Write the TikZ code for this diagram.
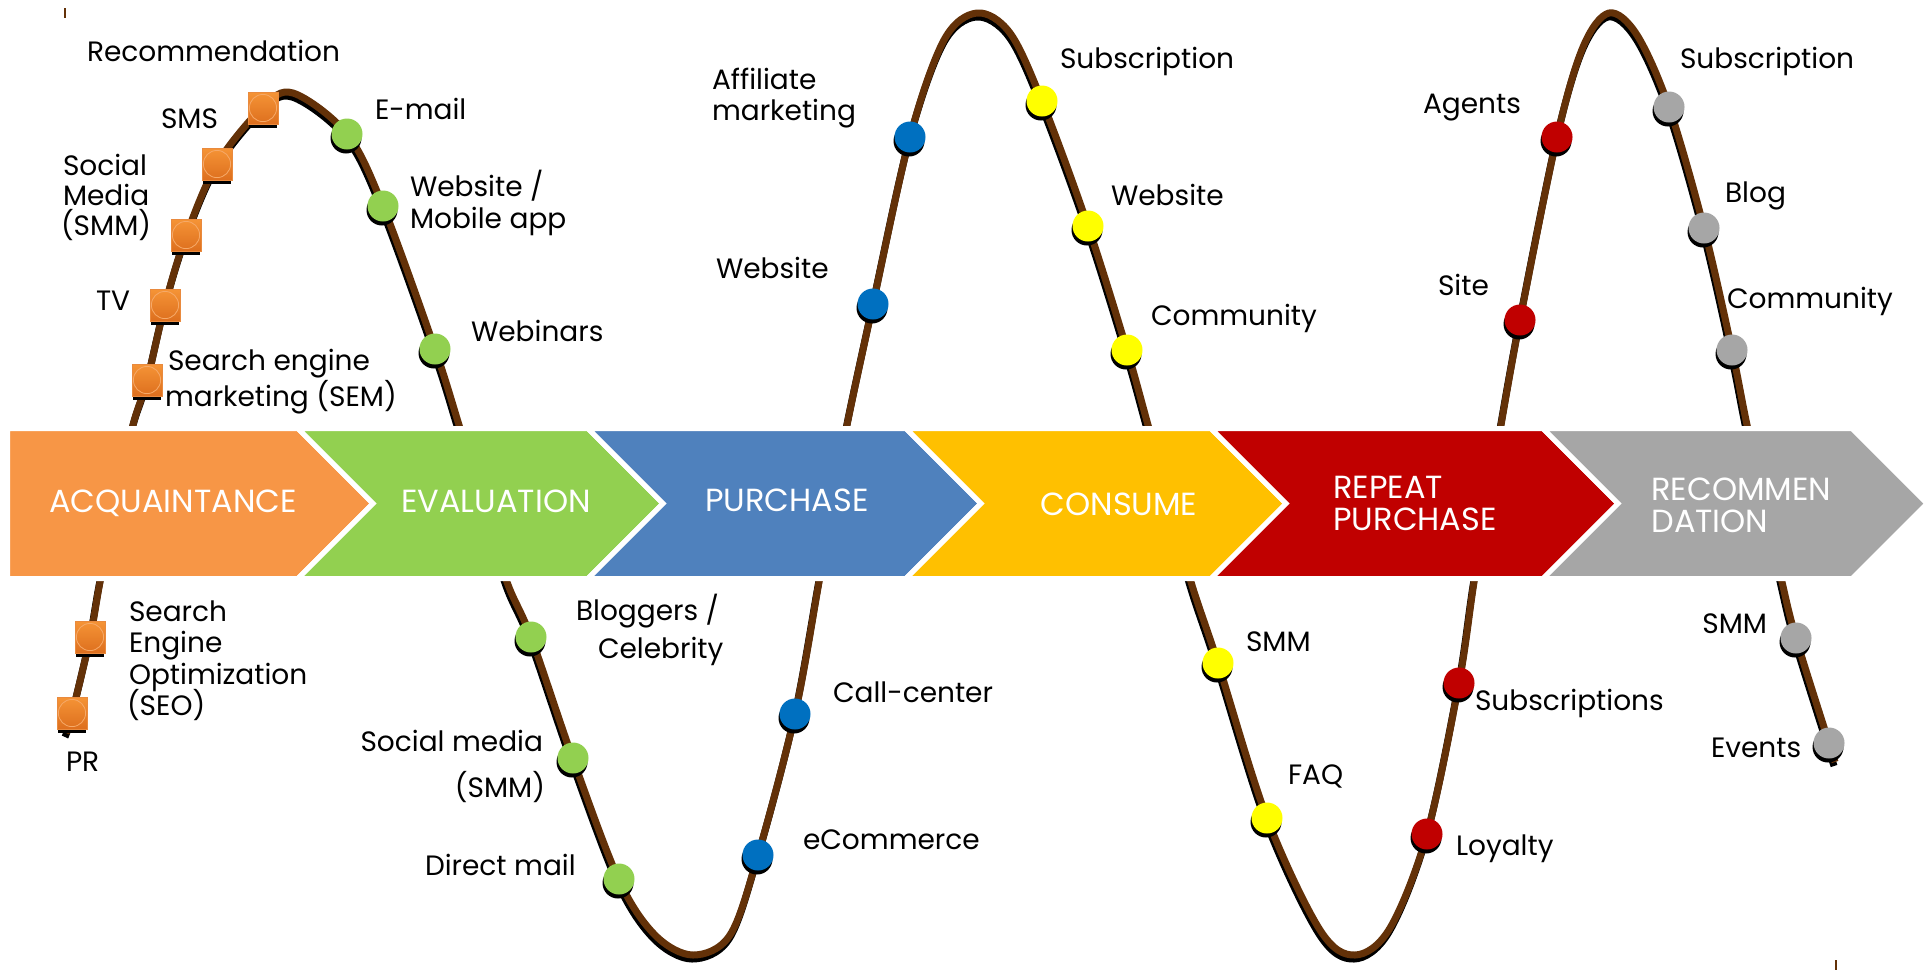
\documentclass[tikz,border=0pt]{standalone}
\usepackage{fontspec}
\setmainfont{Poppins}

\definecolor{acqcol}{HTML}{F79646}
\definecolor{evacol}{HTML}{92D050}
\definecolor{purcol}{HTML}{4F81BD}
\definecolor{concol}{HTML}{FFC000}
\definecolor{repcol}{HTML}{C00000}
\definecolor{reccol}{HTML}{A6A6A6}
\definecolor{wavecol}{HTML}{633108}
\definecolor{dotgreen}{HTML}{92D050}
\definecolor{dotblue}{HTML}{0070C0}
\definecolor{dotyellow}{HTML}{FFFF00}
\definecolor{dotred}{HTML}{C00000}
\definecolor{dotgray}{HTML}{A6A6A6}
\definecolor{sqtop}{HTML}{F59436}
\definecolor{sqbot}{HTML}{DD6F1E}
\definecolor{sqedge}{HTML}{E98A3E}
\definecolor{sqring}{HTML}{F6A968}

\newcommand{\lblfont}{\fontsize{14}{16}\selectfont}
\newcommand{\stagefont}{\fontsize{16}{18}\selectfont}

% round touch point with its drop shadow
\newcommand{\tpdot}[4]{%
  \node[markshadow] at (#2,#3) {};
  \node[markdot, fill=#4] (#1) at (#2,#3) {};}
% square touch point with its drop shadow
\newcommand{\tpsq}[3]{%
  \node[sqshadow] at (#2,#3) {};
  \node[sqmark] (#1) at (#2,#3) {};
  \draw[draw=sqring, line width=0.4pt] (#1.center) circle (6.8pt);}
% text label
\newcommand{\tplbl}[5]{\node[lbl, anchor=#4] (#1) at (#2,#3) {#5};}

\begin{document}
\begin{tikzpicture}[x=0.5pt, y=-0.5pt,
  lbl/.style={inner sep=0pt, outer sep=0pt, font=\lblfont, text=black},
  stagelbl/.style={inner sep=0pt, font=\stagefont, text=white},
  stageshape/.style={draw=white, line width=2.5pt, line join=miter},
  markshadow/.style={circle, fill=black, minimum size=15.5pt, inner sep=0pt, xshift=-0.5pt, yshift=-2pt},
  markdot/.style={circle, minimum size=15.5pt, inner sep=0pt},
  sqshadow/.style={rectangle, fill=black, minimum width=14pt, minimum height=16pt, inner sep=0pt, yshift=-2pt},
  sqmark/.style={rectangle, minimum width=15pt, minimum height=16pt, inner sep=0pt, top color=sqtop, bottom color=sqbot, draw=sqedge, line width=0.3pt}]

\useasboundingbox (0,0) rectangle (1930,970);
\fill[white] (0,0) rectangle (1930,970);

% small corner ticks
\draw[wavecol, line width=0.6pt] (65,8) -- (65,18);
\draw[wavecol, line width=0.6pt] (1836,960) -- (1836,970);

% the journey wave: black shadow first, then the brown line
\foreach \dx/\dy/\col in {-1/4/black, 0/0/wavecol}{
\draw[\col, line width=3.5pt, line cap=butt, line join=round, shift={(\dx,\dy)}]
  plot[smooth, tension=0.55] coordinates {
  (66,733) (72,714) (90,638) (100,582) (116,503) (133,425) (147,381) (165,305)
  (186,236) (217,164) (262,108) (293,93) (347,134) (383,206) (435,349) (459,425)
  (483,503) (507,582) (531,637) (573,759) (619,880) (655,935) (693,955) (730,935)
  (758,855) (795,714) (819,582) (833,503) (847,425) (873,304) (910,137) (944,40)
  (977,13) (1010,33) (1042,101) (1088,226) (1127,350) (1148,425) (1170,503)
  (1191,582) (1218,663) (1267,818) (1320,930) (1355,955) (1390,928) (1427,834)
  (1459,683) (1474,582) (1488,503) (1501,425) (1520,320) (1557,137) (1583,47)
  (1609,13) (1637,35) (1669,107) (1704,228) (1732,350) (1747,425) (1765,503)
  (1782,582) (1796,638) (1829,743) (1835,762)};
}

% stage chevrons
\filldraw[stageshape, fill=acqcol] (7.5,428.5) -- (298,428.5) -- (373,503.5) -- (298,578.5) -- (7.5,578.5) -- cycle;
\filldraw[stageshape, fill=evacol] (298,428.5) -- (588,428.5) -- (663,503.5) -- (588,578.5) -- (298,578.5) -- (373,503.5) -- cycle;
\filldraw[stageshape, fill=purcol] (588,428.5) -- (906,428.5) -- (981,503.5) -- (906,578.5) -- (588,578.5) -- (663,503.5) -- cycle;
\filldraw[stageshape, fill=concol] (906,428.5) -- (1211,428.5) -- (1286,503.5) -- (1211,578.5) -- (906,578.5) -- (981,503.5) -- cycle;
\filldraw[stageshape, fill=repcol] (1211,428.5) -- (1543,428.5) -- (1618,503.5) -- (1543,578.5) -- (1211,578.5) -- (1286,503.5) -- cycle;
\filldraw[stageshape, fill=reccol] (1543,428.5) -- (1852,428.5) -- (1927,503.5) -- (1852,578.5) -- (1543,578.5) -- (1618,503.5) -- cycle;

\node[stagelbl, anchor=base] (acq) at (173,512) {ACQUAINTANCE};
\node[stagelbl, anchor=base] (eva) at (496,512) {EVALUATION};
\node[stagelbl, anchor=base] (pur) at (787,511) {PURCHASE};
\node[stagelbl, anchor=base] (con) at (1119,515) {CONSUME};
\node[stagelbl, anchor=base west] (rep1) at (1333,498) {REPEAT};
\node[stagelbl, anchor=base west] (rep2) at (1333,530) {PURCHASE};
\node[stagelbl, anchor=base west] (rec1) at (1651,500) {RECOMMEN};
\node[stagelbl, anchor=base west] (rec2) at (1651,532) {DATION};

% acquaintance touch points
\tpsq{sqa}{263}{108}
\tpsq{sqb}{217}{164}
\tpsq{sqc}{186}{235}
\tpsq{sqd}{165}{305}
\tpsq{sqe}{147}{380}
\tpsq{sqf}{90}{637}
\tpsq{sqg}{72}{713}

% evaluation touch points
\tpdot{ga}{347}{134}{dotgreen}
\tpdot{gb}{383}{206}{dotgreen}
\tpdot{gc}{435}{349}{dotgreen}
\tpdot{gd}{531}{637}{dotgreen}
\tpdot{ge}{573}{758}{dotgreen}
\tpdot{gf}{619}{879}{dotgreen}

% purchase touch points
\tpdot{ba}{758}{855}{dotblue}
\tpdot{bb}{795}{714}{dotblue}
\tpdot{bc}{873}{304}{dotblue}
\tpdot{bd}{910}{137}{dotblue}

% consume touch points
\tpdot{ya}{1042}{101}{dotyellow}
\tpdot{yb}{1088}{226}{dotyellow}
\tpdot{yc}{1127}{350}{dotyellow}
\tpdot{yd}{1218}{663}{dotyellow}
\tpdot{ye}{1267}{818}{dotyellow}

% repeat purchase touch points
\tpdot{ra}{1427}{834}{dotred}
\tpdot{rb}{1459}{683}{dotred}
\tpdot{rc}{1520}{320}{dotred}
\tpdot{rd}{1557}{137}{dotred}

% recommendation touch points
\tpdot{ka}{1669}{107}{dotgray}
\tpdot{kb}{1704}{228}{dotgray}
\tpdot{kc}{1732}{350}{dotgray}
\tpdot{kd}{1796}{638}{dotgray}
\tpdot{ke}{1829}{743}{dotgray}

% labels
\tplbl{l1}{87}{61}{base west}{Recommendation}
\tplbl{l2}{161}{128}{base west}{SMS}
\tplbl{l3a}{63}{175}{base west}{Social}
\tplbl{l3b}{63}{205}{base west}{Media}
\tplbl{l3c}{61}{235}{base west}{(SMM)}
\tplbl{l4}{96}{310}{base west}{TV}
\tplbl{l5a}{168}{370}{base west}{Search engine}
\tplbl{l5b}{165}{406}{base west}{marketing (SEM)}
\tplbl{l6}{375}{119}{base west}{E-mail}
\tplbl{l7a}{410}{196}{base west}{Website /}
\tplbl{l7b}{410}{228}{base west}{Mobile app}
\tplbl{l8}{471}{341}{base west}{Webinars}
\tplbl{l9a}{129}{621}{base west}{Search}
\tplbl{l9b}{129}{652}{base west}{Engine}
\tplbl{l9c}{129}{684}{base west}{Optimization}
\tplbl{l9d}{127}{715}{base west}{(SEO)}
\tplbl{l10}{66}{771}{base west}{PR}
\tplbl{l11a}{576}{620}{base west}{Bloggers /}
\tplbl{l11b}{598}{658}{base west}{Celebrity}
\tplbl{l12a}{543}{751}{base east}{Social media}
\tplbl{l12b}{545}{797}{base east}{(SMM)}
\tplbl{l13}{425}{875}{base west}{Direct mail}
\tplbl{l14}{833}{702}{base west}{Call-center}
\tplbl{l15}{803}{849}{base west}{eCommerce}
\tplbl{l16a}{712}{89}{base west}{Affiliate}
\tplbl{l16b}{712}{120}{base west}{marketing}
\tplbl{l17}{716}{278}{base west}{Website}
\tplbl{l18}{1060}{68}{base west}{Subscription}
\tplbl{l19}{1111}{205}{base west}{Website}
\tplbl{l20}{1151}{325}{base west}{Community}
\tplbl{l21}{1246}{651}{base west}{SMM}
\tplbl{l22}{1288}{784}{base west}{FAQ}
\tplbl{l23}{1475}{710}{base west}{Subscriptions}
\tplbl{l24}{1456}{855}{base west}{Loyalty}
\tplbl{l25}{1423}{113}{base west}{Agents}
\tplbl{l26}{1438}{295}{base west}{Site}
\tplbl{l27}{1680}{68}{base west}{Subscription}
\tplbl{l28}{1725}{202}{base west}{Blog}
\tplbl{l29}{1727}{308}{base west}{Community}
\tplbl{l30}{1767}{633}{base east}{SMM}
\tplbl{l31}{1711}{757}{base west}{Events}

\end{tikzpicture}
\end{document}
